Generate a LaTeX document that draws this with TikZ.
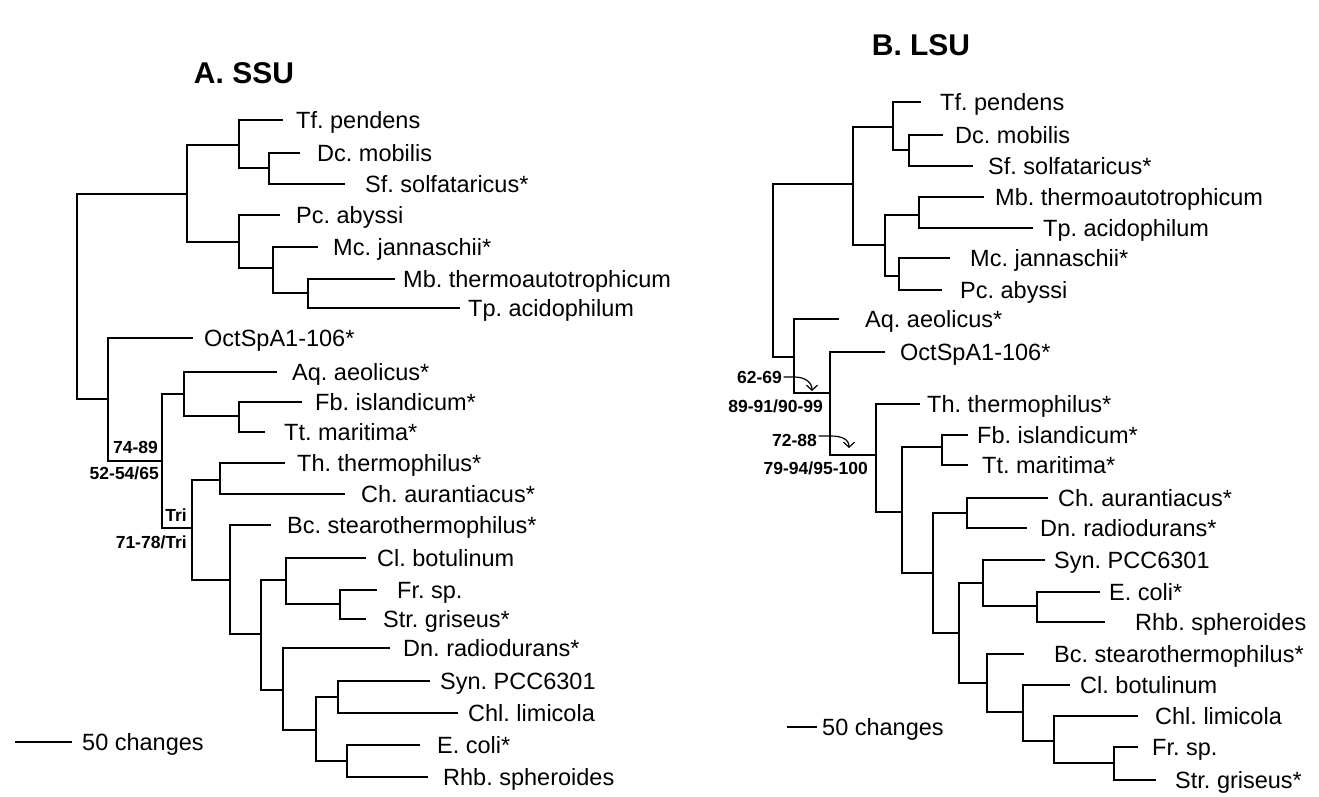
\documentclass[tikz,border=0pt]{standalone}
\usepackage{fontspec}
\setmainfont{Liberation Sans}
\usetikzlibrary{arrows.meta}
\newcommand\mytip[5]{\coordinate (#1) at (#2,#3); \node[lab] (#1t) at (#4,#3) {#5};}
\newcommand\mybr[3]{\draw[br] (#2) -| (#1) |- (#3);}
\begin{document}
\begin{tikzpicture}[x=1pt,y=-1pt,
  br/.style={line width=1.8pt, line join=miter},
  lab/.style={anchor=base west, inner sep=0pt, yshift=-8.4pt, font=\fontsize{23.5}{28}\selectfont},
  blab/.style={anchor=base east, inner sep=0pt, yshift=-6.3pt, font=\bfseries\fontsize{17.5}{20}\selectfont},
  ttl/.style={inner sep=0pt, font=\bfseries\fontsize{30}{34}\selectfont},
  arr/.style={line width=1.2pt, -{Straight Barb[length=5pt,width=11pt,line width=1.2pt]}}]
\useasboundingbox (0,0) rectangle (1319,796);
\fill[white] (0,0) rectangle (1319,796);

% ---------------- A. SSU ----------------
\node[ttl] (tA) at (244,73) {A.\ SSU};
\coordinate (r) at (77,296);
\coordinate (a1) at (187,194);
\coordinate (a2) at (239,145);
\coordinate (a3) at (269,168);
\coordinate (a5) at (239,242);
\coordinate (a6) at (273,268);
\coordinate (a7) at (308,293);
\coordinate (b1) at (108,399);
\coordinate (b2) at (162,461);
\coordinate (b3) at (184,394);
\coordinate (b3a) at (239,416);
\coordinate (b4) at (192,528);
\coordinate (b5) at (220,480);
\coordinate (b6) at (230,580);
\coordinate (b7) at (261,634);
\coordinate (b8) at (286,580);
\coordinate (b8a) at (340,604);
\coordinate (b9) at (283,690);
\coordinate (b10) at (316,730);
\coordinate (b11) at (338,697);
\coordinate (b12) at (347,761);

\mytip{Tf}{283}{120}{296}{Tf.\ pendens}
\mytip{Dc}{300}{153}{317}{Dc.\ mobilis}
\mytip{Sf}{345}{184}{365}{Sf.\ solfataricus*}
\mytip{Pc}{280}{215}{296}{Pc.\ abyssi}
\mytip{Mc}{318}{247}{333}{Mc.\ jannaschii*}
\mytip{Mb}{395}{279}{403}{Mb.\ thermoautotrophicum}
\mytip{Tp}{460}{308}{468}{Tp.\ acidophilum}
\mytip{Oct}{193}{338}{204}{OctSpA1-106*}
\mytip{Aq}{277}{372}{292}{Aq.\ aeolicus*}
\mytip{Fb}{302}{402}{315}{Fb.\ islandicum*}
\mytip{Tt}{265}{432}{284}{Tt.\ maritima*}
\mytip{Th}{285}{463}{297}{Th.\ thermophilus*}
\mytip{Ch}{345}{494}{361}{Ch.\ aurantiacus*}
\mytip{Bc}{271}{525}{287}{Bc.\ stearothermophilus*}
\mytip{Cl}{366}{558}{377}{Cl.\ botulinum}
\mytip{Fr}{377}{590}{397}{Fr.\ sp.}
\mytip{Str}{366}{619}{383}{Str.\ griseus*}
\mytip{Dn}{390}{648}{403}{Dn.\ radiodurans*}
\mytip{Syn}{430}{681}{440}{Syn.\ PCC6301}
\mytip{Chl}{458}{713}{468}{Chl.\ limicola}
\mytip{Ec}{420}{745}{437}{E.\ coli*}
\mytip{Rhb}{428}{777}{443}{Rhb.\ spheroides}

\mybr{r}{a1}{b1}
\mybr{a1}{a2}{a5}
\mybr{a2}{Tf}{a3}
\mybr{a3}{Dc}{Sf}
\mybr{a5}{Pc}{a6}
\mybr{a6}{Mc}{a7}
\mybr{a7}{Mb}{Tp}
\mybr{b1}{Oct}{b2}
\mybr{b2}{b3}{b4}
\mybr{b3}{Aq}{b3a}
\mybr{b3a}{Fb}{Tt}
\mybr{b4}{b5}{b6}
\mybr{b5}{Th}{Ch}
\mybr{b6}{Bc}{b7}
\mybr{b7}{b8}{b9}
\mybr{b8}{Cl}{b8a}
\mybr{b8a}{Fr}{Str}
\mybr{b9}{Dn}{b10}
\mybr{b10}{b11}{b12}
\mybr{b11}{Syn}{Chl}
\mybr{b12}{Ec}{Rhb}

\node[blab] (l1) at (158,447) {74-89};
\node[blab] (l2) at (159,473) {52-54/65};
\node[blab] (l3) at (187,515) {Tri};
\node[blab] (l4) at (187,542) {71-78/Tri};

\coordinate (sa1) at (15,742);
\coordinate (sa2) at (72,742);
\draw[line width=1.5pt] (sa1) -- (sa2);
\node[lab] (sat) at (82,742) {50 changes};

% ---------------- B. LSU ----------------
\node[ttl] (tB) at (921,45) {B.\ LSU};
\coordinate (R) at (773,270);
\coordinate (c1) at (853,184);
\coordinate (c2) at (893,127);
\coordinate (c3) at (909,150);
\coordinate (c5) at (885,245);
\coordinate (c6) at (919,215);
\coordinate (c7) at (899,276);
\coordinate (d1) at (794,357);
\coordinate (d2) at (830,393);
\coordinate (d3) at (876,455);
\coordinate (d4) at (902,512);
\coordinate (d5) at (942,447);
\coordinate (d6) at (933,573);
\coordinate (d7) at (967,513);
\coordinate (d8) at (959,633);
\coordinate (d9) at (983,583);
\coordinate (d9a) at (1037,606);
\coordinate (d10) at (987,683);
\coordinate (d11) at (1023,712);
\coordinate (d12) at (1054,741);
\coordinate (d13) at (1114,763);

\mytip{BTf}{921}{102}{940}{Tf.\ pendens}
\mytip{BDc}{943}{135}{955}{Dc.\ mobilis}
\mytip{BSf}{973}{166}{988}{Sf.\ solfataricus*}
\mytip{BMb}{984}{197}{995}{Mb.\ thermoautotrophicum}
\mytip{BTp}{1033}{228}{1043}{Tp.\ acidophilum}
\mytip{BMc}{950}{258}{970}{Mc.\ jannaschii*}
\mytip{BPc}{942}{290}{960}{Pc.\ abyssi}
\mytip{BAq}{839}{319}{865}{Aq.\ aeolicus*}
\mytip{BOct}{885}{352}{900}{OctSpA1-106*}
\mytip{BTh}{920}{404}{927}{Th.\ thermophilus*}
\mytip{BFb}{968}{435}{977}{Fb.\ islandicum*}
\mytip{BTt}{968}{465}{982}{Tt.\ maritima*}
\mytip{BCh}{1048}{498}{1058}{Ch.\ aurantiacus*}
\mytip{BDn}{1027}{528}{1040}{Dn.\ radiodurans*}
\mytip{BSyn}{1045}{560}{1054}{Syn.\ PCC6301}
\mytip{BEc}{1100}{592}{1109}{E.\ coli*}
\mytip{BRhb}{1105}{622}{1135}{Rhb.\ spheroides}
\mytip{BBc}{1024}{654}{1054}{Bc.\ stearothermophilus*}
\mytip{BCl}{1070}{685}{1080}{Cl.\ botulinum}
\mytip{BChl}{1138}{716}{1155}{Chl.\ limicola}
\mytip{BFr}{1138}{747}{1152}{Fr.\ sp.}
\mytip{BStr}{1156}{780}{1175}{Str.\ griseus*}

\mybr{R}{c1}{d1}
\mybr{c1}{c2}{c5}
\mybr{c2}{BTf}{c3}
\mybr{c3}{BDc}{BSf}
\mybr{c5}{c6}{c7}
\mybr{c6}{BMb}{BTp}
\mybr{c7}{BMc}{BPc}
\mybr{d1}{BAq}{d2}
\mybr{d2}{BOct}{d3}
\mybr{d3}{BTh}{d4}
\mybr{d4}{d5}{d6}
\mybr{d5}{BFb}{BTt}
\mybr{d6}{d7}{d8}
\mybr{d7}{BCh}{BDn}
\mybr{d8}{d9}{d10}
\mybr{d9}{BSyn}{d9a}
\mybr{d9a}{BEc}{BRhb}
\mybr{d10}{BBc}{d11}
\mybr{d11}{BCl}{d12}
\mybr{d12}{BChl}{d13}
\mybr{d13}{BFr}{BStr}

\node[blab] (m1) at (782,377) {62-69};
\node[blab] (m2) at (823,406) {89-91/90-99};
\node[blab] (m3) at (817,440) {72-88};
\node[blab] (m4) at (868,468) {79-94/95-100};

\coordinate (e1) at (812,391);
\coordinate (e2) at (849,448);
\draw[arr] (m1.east |- 0,377) ++(1.5,0) -- ++(11,0) .. controls +(10,0) and +(0,-9) .. (e1);
\draw[arr] (m3.east |- 0,436) ++(1.5,0) -- ++(12,0) .. controls +(11,0) and +(0,-9) .. (e2);

\coordinate (sb1) at (787,727);
\coordinate (sb2) at (817,727);
\draw[line width=1.5pt] (sb1) -- (sb2);
\node[lab] (sbt) at (822,727) {50 changes};
\end{tikzpicture}
\end{document}
